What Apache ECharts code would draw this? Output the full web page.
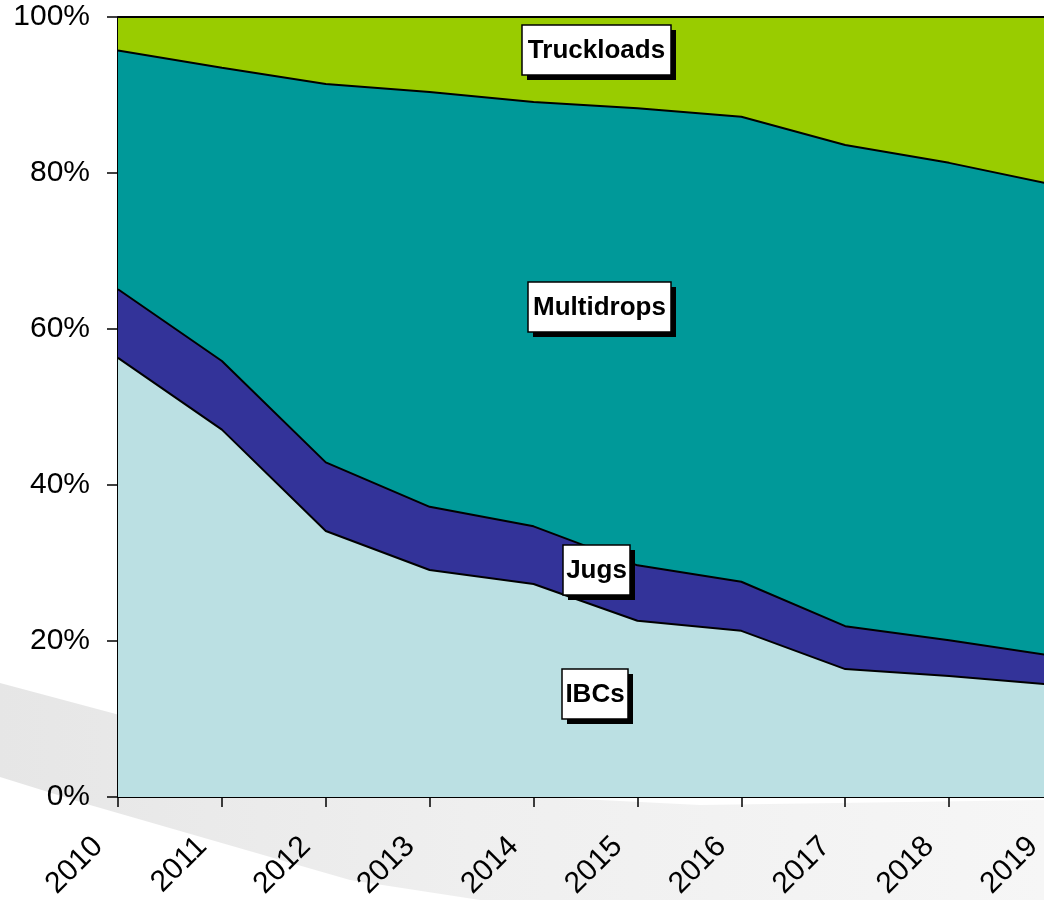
<!DOCTYPE html>
<html>
<head>
<meta charset="utf-8">
<script src="https://cdn.jsdelivr.net/npm/echarts@6/dist/echarts.min.js"></script>
<style>
  html, body { margin: 0; padding: 0; background: #fff; }
  #chart { width: 1044px; height: 900px; }
</style>
</head>
<body>
<div id="chart"></div>
<script>
// share of each packaging type, percent (stacked to 100)
const years = ['2010', '2011', '2012', '2013', '2014', '2015', '2016', '2017', '2018', '2019']
const ibcs = [56.3, 47.1, 34.1, 29.1, 27.3, 22.6, 21.3, 16.4, 15.5, 14.4]
const jugs = [8.8, 8.8, 8.8, 8.1, 7.4, 7.1, 6.3, 5.5, 4.6, 3.7]
const multidrops = [30.6, 37.6, 48.5, 53.2, 54.4, 58.6, 59.6, 61.7, 61.2, 60.4]
const truckloads = [4.3, 6.5, 8.6, 9.6, 10.9, 11.7, 12.8, 16.4, 18.7, 21.5]
const yTicks = [0, 20, 40, 60, 80, 100]

const FONT = '"Liberation Sans", Arial, sans-serif'

const chart = echarts.init(document.getElementById('chart'), null, { renderer: 'canvas' })

function areaSeries(name, data, color) {
  return {
    name,
    type: 'line',
    stack: 'share',
    data,
    symbol: 'none',
    showSymbol: false,
    lineStyle: { color: '#000', width: 2 },
    areaStyle: { color, opacity: 1 },
    emphasis: { disabled: true },
    z: 2
  }
}

// white callout box with hard black drop shadow
function callout(text, x, y, w, h) {
  return {
    type: 'group',
    x, y, z: 100,
    children: [
      { type: 'rect', shape: { x: 5, y: 5, width: w, height: h }, style: { fill: '#000' }, z: 100 },
      { type: 'rect', shape: { x: 0, y: 0, width: w, height: h }, style: { fill: '#fff', stroke: '#000', lineWidth: 1.5 }, z: 101 },
      {
        type: 'text', x: w / 2, y: h / 2 + 1, z: 102,
        style: { text, font: 'bold 26px ' + FONT, fill: '#000', align: 'center', verticalAlign: 'middle' }
      }
    ]
  }
}

const option = {
  animation: false,
  backgroundColor: '#fff',
  // the 2019 point sits just past the right edge of the picture
  grid: { left: 118, width: 935, top: 17, height: 780, containLabel: false, outerBoundsMode: 'none' },
  xAxis: {
    type: 'category',
    data: years,
    boundaryGap: false,
    axisLine: { lineStyle: { color: '#000', width: 2 } },
    axisTick: { show: true, length: 10, lineStyle: { color: '#000', width: 1.5 } },
    axisLabel: {
      rotate: 45,
      margin: 25,
      padding: [0, 28, 0, 0],
      color: '#000',
      fontSize: 30,
      fontFamily: FONT,
      interval: 0,
      hideOverlap: false
    },
    splitLine: { show: false }
  },
  yAxis: {
    type: 'value',
    min: yTicks[0],
    max: yTicks[yTicks.length - 1],
    interval: 20,
    axisLine: { show: true, lineStyle: { color: '#000', width: 2 } },
    axisTick: { show: true, length: 11, lineStyle: { color: '#000', width: 1.5 } },
    axisLabel: { formatter: '{value}%', margin: 28, color: '#000', fontSize: 30, fontFamily: FONT },
    splitLine: { show: false }
  },
  series: [
    areaSeries('IBCs', ibcs, '#BBE0E3'),
    areaSeries('Jugs', jugs, '#333399'),
    areaSeries('Multidrops', multidrops, '#009999'),
    areaSeries('Truckloads', truckloads, '#99CC00')
  ],
  graphic: [
    {
      type: 'polygon',
      z: 0,
      silent: true,
      shape: {
        points: [[0, 683], [400, 790], [700, 805], [1044, 800], [1044, 900], [480, 900], [350, 880], [90, 805], [0, 777]]
      },
      style: {
        fill: {
          type: 'linear', x: 0, y: 0, x2: 1, y2: 0,
          colorStops: [
            { offset: 0, color: '#e6e6e6' },
            { offset: 0.45, color: '#efefef' },
            { offset: 1, color: '#f6f6f6' }
          ]
        }
      }
    },
    callout('Truckloads', 522, 25, 149, 50),
    callout('Multidrops', 528, 282, 143, 50),
    callout('Jugs', 563, 545, 67, 50),
    callout('IBCs', 562, 669, 66, 50)
  ]
}

chart.setOption(option)
window.addEventListener('resize', () => chart.resize())
</script>
</body>
</html>
